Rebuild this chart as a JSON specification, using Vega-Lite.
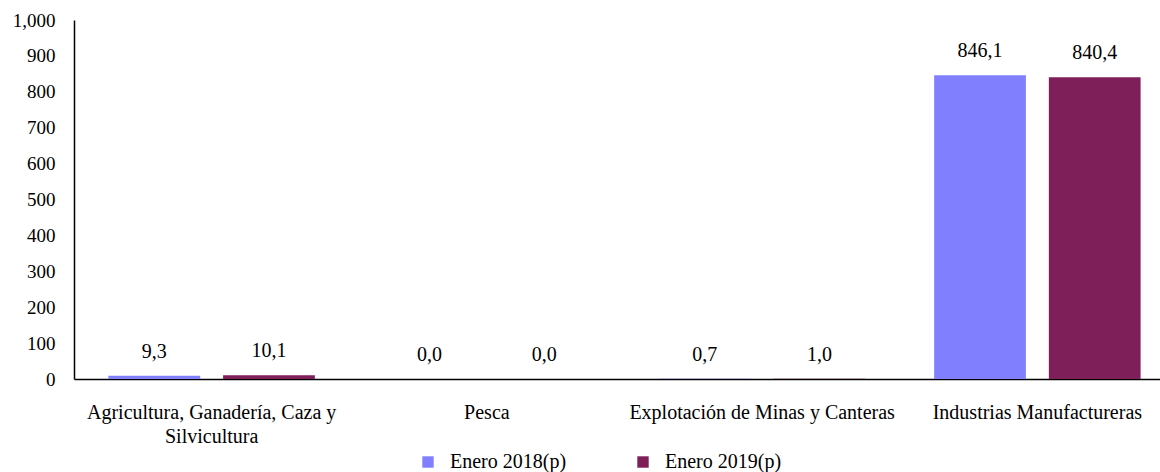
{
  "$schema": "https://vega.github.io/schema/vega-lite/v6.json",
  "autosize": "none",
  "width": 1086,
  "height": 359,
  "padding": {"left": 74, "top": 20, "right": 0, "bottom": 93},
  "background": "white",
  "data": {
    "values": [
      {"sector": "Agricultura, Ganadería, Caza y Silvicultura", "periodo": "Enero 2018(p)", "valor": 9.3},
      {"sector": "Agricultura, Ganadería, Caza y Silvicultura", "periodo": "Enero 2019(p)", "valor": 10.1},
      {"sector": "Pesca", "periodo": "Enero 2018(p)", "valor": 0.0},
      {"sector": "Pesca", "periodo": "Enero 2019(p)", "valor": 0.0},
      {"sector": "Explotación de Minas y Canteras", "periodo": "Enero 2018(p)", "valor": 0.7},
      {"sector": "Explotación de Minas y Canteras", "periodo": "Enero 2019(p)", "valor": 1.0},
      {"sector": "Industrias Manufactureras", "periodo": "Enero 2018(p)", "valor": 846.1},
      {"sector": "Industrias Manufactureras", "periodo": "Enero 2019(p)", "valor": 840.4}
    ]
  },
  "encoding": {
    "x": {
      "field": "sector", "type": "nominal", "sort": null,
      "scale": {"paddingInner": 0, "paddingOuter": 0, "range": [0, 1101]},
      "axis": {
        "title": null, "labelAngle": 0, "ticks": false, "domainColor": "black", "domainWidth": 1.5,
        "labelFont": "Liberation Serif", "labelFontSize": 20, "labelColor": "black", "labelPadding": 23,
        "labelLimit": 0, "labelLineHeight": 24,
        "labelExpr": "datum.value == 'Agricultura, Ganadería, Caza y Silvicultura' ? ['Agricultura, Ganadería, Caza y', 'Silvicultura'] : datum.value"
      }
    },
    "xOffset": {"field": "periodo", "type": "nominal", "scale": {"paddingInner": 0.2, "paddingOuter": 0.3}},
    "y": {
      "field": "valor", "type": "quantitative",
      "scale": {"domain": [0, 1000]},
      "axis": {
        "title": null, "grid": false, "ticks": false, "tickCount": 10, "format": ",d",
        "domainColor": "black", "domainWidth": 1.5,
        "labelFont": "Liberation Serif", "labelFontSize": 19, "labelColor": "black", "labelPadding": 19
      }
    }
  },
  "layer": [
    {
      "mark": {"type": "bar"},
      "encoding": {
        "color": {
          "field": "periodo", "type": "nominal",
          "scale": {"domain": ["Enero 2018(p)", "Enero 2019(p)"], "range": ["#8080FF", "#7F1F5A"]},
          "legend": {
            "title": null, "orient": "none", "direction": "horizontal",
            "legendX": 344, "legendY": 432,
            "symbolType": "square", "symbolSize": 130, "symbolStrokeWidth": 0,
            "labelFont": "Liberation Serif", "labelFontSize": 20, "labelColor": "black",
            "columnPadding": 66, "labelOffset": 12
          }
        }
      }
    },
    {
      "mark": {"type": "text", "dy": -24, "font": "Liberation Serif", "fontSize": 20, "color": "black"},
      "encoding": {
        "text": {"field": "valor", "type": "quantitative", "format": ".1f"}
      }
    }
  ],
  "config": {
    "view": {"stroke": null},
    "locale": {"number": {"decimal": ",", "thousands": ",", "grouping": [3], "currency": ["$", ""]}}
  }
}
